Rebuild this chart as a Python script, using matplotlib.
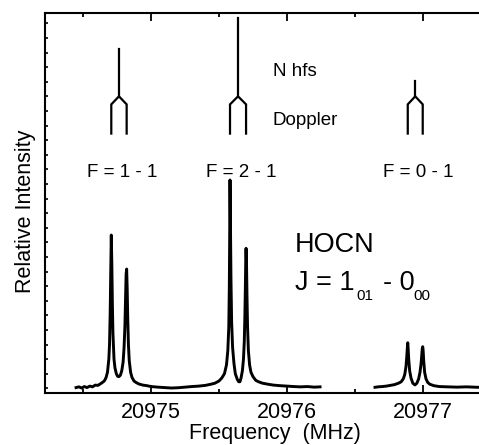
import matplotlib
matplotlib.use("Agg")
import matplotlib.pyplot as plt
import numpy as np

plt.rcParams["font.family"] = ["Liberation Sans", "DejaVu Sans"]

# spectrum, first recorded window (F = 1-1 and F = 2-1)
freq_a = [20974.449, 20974.47, 20974.49, 20974.51, 20974.53, 20974.55, 20974.57,
          20974.59, 20974.61, 20974.63, 20974.65, 20974.66, 20974.67, 20974.68,
          20974.69, 20974.695, 20974.70, 20974.704, 20974.708, 20974.712, 20974.716,
          20974.72, 20974.728, 20974.735, 20974.745, 20974.755, 20974.765, 20974.775,
          20974.785, 20974.795, 20974.802, 20974.808, 20974.813, 20974.817, 20974.821,
          20974.825, 20974.829, 20974.834, 20974.84, 20974.85, 20974.86, 20974.875,
          20974.89, 20974.91, 20974.94, 20974.97, 20975.0, 20975.05, 20975.10,
          20975.15, 20975.20, 20975.25, 20975.30, 20975.35, 20975.40, 20975.44,
          20975.47, 20975.50, 20975.52, 20975.54, 20975.555, 20975.565, 20975.572,
          20975.576, 20975.579, 20975.581, 20975.584, 20975.588, 20975.593, 20975.60,
          20975.61, 20975.62, 20975.635, 20975.645, 20975.654, 20975.662, 20975.672,
          20975.68, 20975.686, 20975.69, 20975.694, 20975.697, 20975.699, 20975.702,
          20975.706, 20975.71, 20975.716, 20975.725, 20975.735, 20975.75, 20975.77,
          20975.79, 20975.82, 20975.86, 20975.90, 20975.95, 20976.0, 20976.05,
          20976.10, 20976.15, 20976.20, 20976.243]
int_a = [0.05, 0.10, 0.02, 0.12, 0.05, 0.15, 0.10,
         0.22, 0.20, 0.32, 0.45, 0.55, 0.75, 1.10,
         2.00, 3.00, 5.20, 8.00, 10.50, 8.50, 5.80,
         3.80, 2.00, 1.40, 1.00, 0.82, 0.80, 0.90,
         1.20, 1.80, 2.80, 4.20, 6.20, 7.80, 8.17,
         6.80, 4.80, 3.00, 1.90, 1.10, 0.75, 0.50,
         0.40, 0.30, 0.22, 0.18, 0.12, 0.08, 0.05,
         0.02, 0.04, 0.08, 0.12, 0.15, 0.20, 0.28,
         0.35, 0.50, 0.70, 1.00, 1.60, 2.60, 4.20,
         7.00, 11.00, 14.27, 11.50, 7.50, 4.50, 2.80,
         1.70, 1.00, 0.60, 0.45, 0.45, 0.70, 1.20,
         2.00, 3.20, 4.80, 7.00, 9.00, 9.59, 8.80,
         6.20, 4.20, 2.60, 1.60, 1.10, 0.80, 0.55,
         0.45, 0.35, 0.28, 0.22, 0.18, 0.15, 0.12,
         0.10, 0.12, 0.08, 0.10]

# second window (F = 0-1)
freq_b = [20976.647, 20976.67, 20976.70, 20976.73, 20976.76, 20976.79, 20976.82,
          20976.84, 20976.855, 20976.866, 20976.875, 20976.881, 20976.885, 20976.888,
          20976.891, 20976.895, 20976.902, 20976.912, 20976.925, 20976.941, 20976.955,
          20976.968, 20976.978, 20976.986, 20976.992, 20976.995, 20976.998, 20977.001,
          20977.005, 20977.012, 20977.022, 20977.035, 20977.05, 20977.08, 20977.12,
          20977.18, 20977.25, 20977.32, 20977.40, 20977.46]
int_b = [0.07, 0.10, 0.12, 0.15, 0.20, 0.25, 0.35,
         0.45, 0.65, 0.95, 1.50, 2.20, 2.80, 3.12,
         2.70, 2.00, 1.20, 0.70, 0.35, 0.23, 0.35,
         0.65, 1.10, 1.70, 2.40, 2.75, 2.85, 2.60,
         1.90, 1.10, 0.65, 0.40, 0.28, 0.18, 0.12,
         0.10, 0.08, 0.10, 0.07, 0.08]

# hyperfine components and their Doppler doublets
hfs_labels = ["F = 1 - 1", "F = 2 - 1", "F = 0 - 1"]
doppler_lo = [20974.708, 20975.581, 20976.888]
doppler_hi = [20974.821, 20975.699, 20976.998]
hfs_intensity = [3, 5, 1]

fig = plt.figure(figsize=(4.79, 4.45), dpi=100)
ax = fig.add_axes([45 / 479, 51.7 / 445, 434 / 479, 380.6 / 445])

ax.plot(freq_a, int_a, color="black", lw=2.1, solid_joinstyle="round")
ax.plot(freq_b, int_b, color="black", lw=2.1, solid_joinstyle="round")

y_branch, y_knee, y_foot = 20.0, 19.45, 17.45
for lo, hi, h, lab in zip(doppler_lo, doppler_hi, hfs_intensity, hfs_labels):
    c = (lo + hi) / 2
    ax.plot([c, c], [y_branch, y_branch + 1.07 * h], color="black", lw=1.6)
    ax.plot([lo, lo, c, hi, hi], [y_foot, y_knee, y_branch, y_knee, y_foot],
            color="black", lw=1.6, solid_joinstyle="miter")
    ax.text(c + 0.02, 14.8, lab, ha="center", va="center", fontsize=13.5)

ax.text(20975.897, 21.73, "N hfs", ha="left", va="center", fontsize=13.5)
ax.text(20975.897, 18.37, "Doppler", ha="left", va="center", fontsize=13.5)
ax.text(20976.059, 9.82, "HOCN", ha="left", va="center", fontsize=19.5)
# J = 1_01 - 0_00, subscripts set by hand so they sit low like the original
ax.text(20976.059, 7.2, "J = 1", ha="left", va="center", fontsize=19.5)
ax.text(20976.507, 6.3, "01", ha="left", va="center", fontsize=11)
ax.text(20976.706, 7.2, "- 0", ha="left", va="center", fontsize=19.5)
ax.text(20976.926, 6.3, "00", ha="left", va="center", fontsize=11)

ax.set_xlim(20974.2206, 20977.4118)
ax.set_ylim(-0.342, 25.73)
ax.set_xticks([20975, 20976, 20977])
ax.set_xticklabels(["20975", "20976", "20977"])
ax.set_xticks([20974.5, 20975.5, 20976.5], minor=True)
ax.set_yticks(np.arange(0, 26))
ax.set_yticklabels([])
ax.tick_params(axis="x", which="both", direction="in", top=True, labelsize=15.5,
               pad=6, width=1.3)
ax.tick_params(axis="x", which="major", length=6)
ax.tick_params(axis="x", which="minor", length=3)
ax.tick_params(axis="y", direction="in", length=2.5, width=1.2)

for side in ["left", "bottom", "top"]:
    ax.spines[side].set_linewidth(1.5)
ax.spines["right"].set_visible(False)

ax.set_xlabel("Frequency  (MHz)", fontsize=15.5)
ax.xaxis.set_label_coords(0.53, -0.078)
ax.set_ylabel("Relative Intensity", fontsize=15.5)
ax.yaxis.set_label_coords(-0.021, 0.479)

fig.savefig("out.png", dpi=100)
